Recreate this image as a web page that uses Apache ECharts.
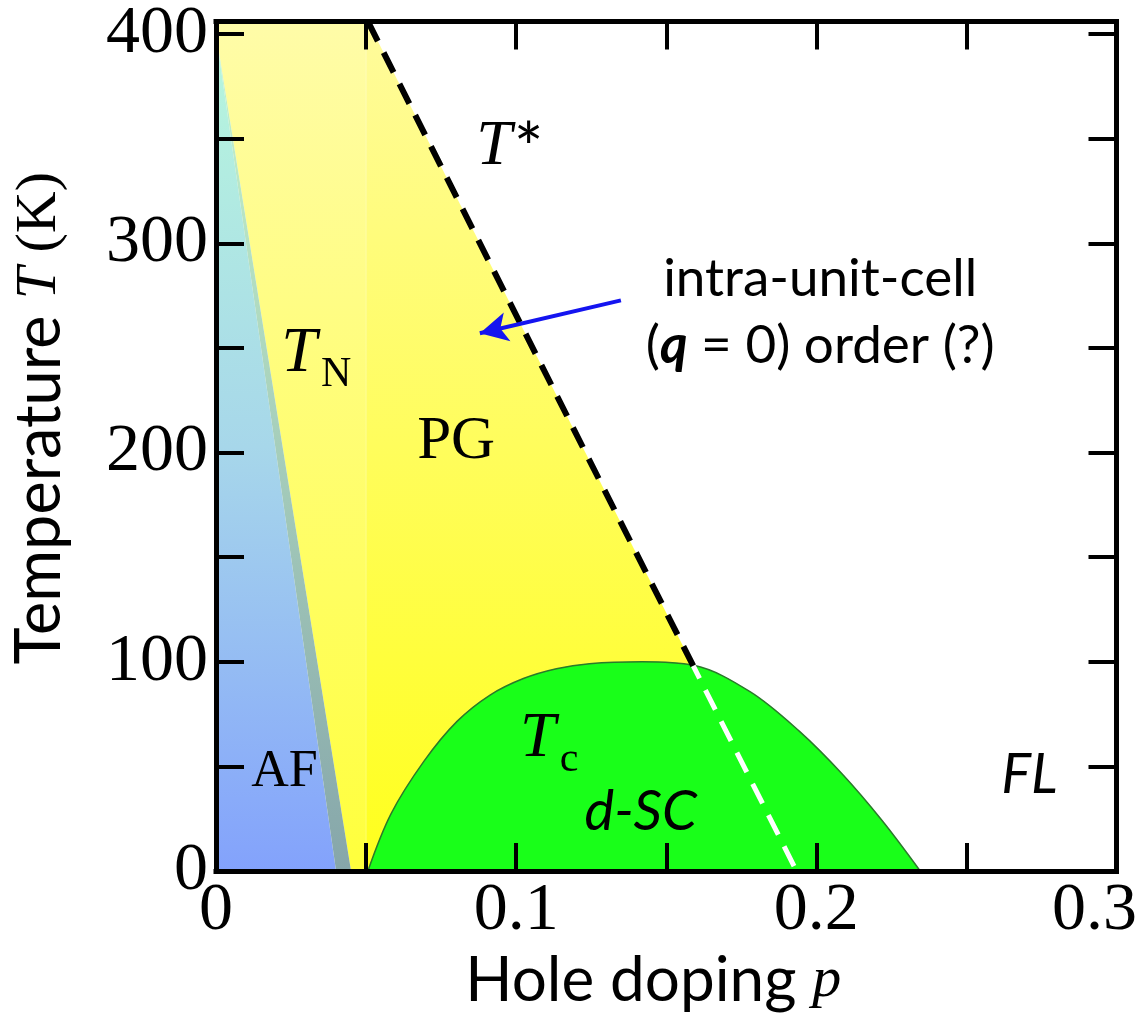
<!DOCTYPE html>
<html>
<head>
<meta charset="utf-8">
<script src="https://cdn.jsdelivr.net/npm/echarts@6/dist/echarts.min.js"></script>
<style>
  html, body { margin: 0; padding: 0; background: #fff; }
  #chart { width: 1140px; height: 1026px; }
</style>
</head>
<body>
<div id="chart"></div>
<script>
// Cuprate phase diagram: temperature vs hole doping

// axis ticks and labels
const xTickValues = [0, 0.05, 0.1, 0.15, 0.2, 0.25, 0.3];
const xLabelValues = [0, 0.1, 0.2, 0.3];
const xLabelTexts = ['0', '0.1', '0.2', '0.3'];
const yTickValues = [0, 50, 100, 150, 200, 250, 300, 350, 400];
const yLabelValues = [0, 100, 200, 300, 400];
const yLabelTexts = ['0', '100', '200', '300', '400'];

// region outlines as [p, T]
const afRegion = [[0, 0], [0, 400], [0.040, 0]];
const tnBand = [[0, 400], [0.045, 0], [0.040, 0]];
const pgUnderdoped = [[0, 406], [0, 400], [0.045, 0], [0.050, 0], [0.050, 406]];
const pgRegion = [[0.050, 0], [0.050, 406], [0.0506, 406], [0.1934, 0]];

// superconducting dome Tc(p)
const tcDome = [
  [0.0506, 0], [0.0583, 27.3], [0.0693, 52.5], [0.0803, 71.5], [0.0913, 84.1],
  [0.1024, 92.0], [0.1134, 96.7], [0.1244, 99.1], [0.1420, 100], [0.1591, 98.3],
  [0.1779, 85.7], [0.1944, 66.7], [0.2087, 46.2], [0.2219, 24.1], [0.2346, 0]
];

// pseudogap line T*(p), split where it meets the dome
const tStarAbove = [[0.0506, 406], [0.159, 98]];
const tStarBelow = [[0.159, 98], [0.1934, 0]];

// arrow pointing at the T* line
const arrowFrom = [0.1349, 272.7];
const arrowTo = [0.0879, 257];

// annotations: [p, T, rich text]
const annotations = [
  [0.0979, 346, '{ti|T}{tr|*}'],
  [0.0334, 247, '{ti|T}{sub|N}'],
  [0.0800, 205, '{big|PG}'],
  [0.2013, 283, '{note|intra-unit-cell}'],
  [0.2013, 251, '{note|(}{qb|q}{note| = 0) order (?)}'],
  [0.1110, 63, '{ti|T}{sub|c}'],
  [0.1415, 28, '{it|d-SC}'],
  [0.0228, 47, '{af|AF}'],
  [0.2710, 46, '{it|FL}']
];

const SERIF = '"Liberation Serif", "DejaVu Serif", serif';
const SANS = 'Lato, "Noto Sans", sans-serif';

const chart = echarts.init(document.getElementById('chart'), null, { renderer: 'canvas' });

function gradientFill(api, stops) {
  const yTop = api.coord([0, 406])[1];
  const yBot = api.coord([0, 0])[1];
  return new echarts.graphic.LinearGradient(0, yTop, 0, yBot, stops, true);
}

function polygonSeries(points, stops, z) {
  return {
    type: 'custom',
    z: z,
    silent: true,
    data: [[0, 0]],
    renderItem: function (params, api) {
      return {
        type: 'polygon',
        shape: { points: points.map(function (pt) { return api.coord(pt); }) },
        style: { fill: gradientFill(api, stops), stroke: null }
      };
    }
  };
}

const richStyles = {
  ti: { fontFamily: SERIF, fontStyle: 'italic', fontSize: 64, color: '#000', lineHeight: 64, verticalAlign: 'top' },
  tr: { fontFamily: SANS, fontSize: 70, color: '#000', lineHeight: 64, verticalAlign: 'top', padding: [0, 0, 0, 2] },
  sub: { fontFamily: SERIF, fontSize: 42, color: '#000', lineHeight: 42, verticalAlign: 'top', padding: [32, 0, 0, 4] },
  big: { fontFamily: SERIF, fontSize: 61, color: '#000' },
  note: { fontFamily: SANS, fontSize: 53, color: '#000' },
  qb: { fontFamily: SANS, fontSize: 53, color: '#000', fontStyle: 'italic', fontWeight: 'bold' },
  it: { fontFamily: SANS, fontStyle: 'italic', fontSize: 56, color: '#000' },
  af: { fontFamily: SERIF, fontSize: 52, color: '#fff' }
};

const axisLineStyle = { show: true, onZero: false, lineStyle: { color: '#000', width: 5, cap: 'square' } };
const tickStyle = { show: true, inside: true, length: 28, lineStyle: { color: '#000', width: 4 } };

const option = {
  animation: false,
  backgroundColor: '#fff',
  grid: { left: 212, right: 21, top: 13, bottom: 155 },
  xAxis: [
    {
      type: 'value', min: 0, max: 0.3, position: 'bottom', z: 10,
      axisLine: axisLineStyle,
      axisTick: Object.assign({ customValues: xTickValues }, tickStyle),
      axisLabel: {
        customValues: xLabelValues,
        margin: 6,
        color: '#000', fontFamily: SERIF, fontSize: 68,
        formatter: function (v) {
          const i = xLabelValues.findIndex(function (x) { return Math.abs(x - v) < 1e-9; });
          const txt = i >= 0 ? xLabelTexts[i] : '';
          return i === xLabelValues.length - 1 ? '{last|' + txt + '}' : txt;
        },
        rich: { last: { fontFamily: SERIF, fontSize: 68, color: '#000', padding: [0, 44, 0, 0] } }
      },
      splitLine: { show: false },
      name: '{s|Hole doping }{i|p}',
      nameLocation: 'middle',
      nameGap: 78,
      nameTextStyle: {
        padding: [0, 26, 0, 0],
        rich: {
          s: { fontFamily: SANS, fontSize: 62, color: '#000' },
          i: { fontFamily: SERIF, fontStyle: 'italic', fontSize: 58, color: '#000' }
        }
      }
    },
    {
      type: 'value', min: 0, max: 0.3, position: 'top', z: 10,
      axisLine: axisLineStyle,
      axisTick: Object.assign({ customValues: xTickValues }, tickStyle),
      axisLabel: { show: false },
      splitLine: { show: false }
    }
  ],
  yAxis: [
    {
      type: 'value', min: 0, max: 406, position: 'left', z: 10,
      axisLine: axisLineStyle,
      axisTick: Object.assign({ customValues: yTickValues }, tickStyle),
      axisLabel: {
        customValues: yLabelValues,
        margin: 8,
        color: '#000', fontFamily: SERIF, fontSize: 68,
        formatter: function (v) {
          const i = yLabelValues.indexOf(Math.round(v));
          return i >= 0 ? yLabelTexts[i] : '';
        }
      },
      splitLine: { show: false },
      name: '{s|Temperature }{i|T}{r| (K)}',
      nameLocation: 'middle',
      nameRotate: 90,
      nameGap: 145,
      nameTextStyle: {
        padding: [0, 0, 0, 56],
        rich: {
          s: { fontFamily: SANS, fontSize: 63, color: '#000' },
          i: { fontFamily: SERIF, fontStyle: 'italic', fontSize: 58, color: '#000' },
          r: { fontFamily: SERIF, fontSize: 58, color: '#000' }
        }
      }
    },
    {
      type: 'value', min: 0, max: 406, position: 'right', z: 10,
      axisLine: axisLineStyle,
      axisTick: Object.assign({ customValues: yTickValues }, tickStyle),
      axisLabel: { show: false },
      splitLine: { show: false }
    }
  ],
  series: [
    // pseudogap region, underdoped slice (slightly paler)
    polygonSeries(pgUnderdoped, [
      { offset: 0, color: '#fffca8' }, { offset: 1, color: '#ffff3c' }
    ], 1),
    // pseudogap region
    polygonSeries(pgRegion, [
      { offset: 0, color: '#fffb9c' }, { offset: 1, color: '#ffff1c' }
    ], 1),
    // antiferromagnet
    polygonSeries(afRegion, [
      { offset: 0, color: '#b8f8dc' }, { offset: 0.5, color: '#a7d7ea' }, { offset: 1, color: '#83a2fc' }
    ], 2),
    // Neel boundary band
    polygonSeries(tnBand, [
      { offset: 0, color: '#c6f6cc' }, { offset: 1, color: '#86a6aa' }
    ], 2),
    // faint seam at p = 0.05
    {
      type: 'line', z: 2, silent: true, showSymbol: false,
      data: [[0.05, 0], [0.05, 406]],
      lineStyle: { color: 'rgba(255,255,255,0.25)', width: 1 }
    },
    // d-wave superconducting dome
    {
      type: 'line', z: 3, silent: true, showSymbol: false, smooth: 0.35,
      data: tcDome,
      lineStyle: { color: '#2a7a2a', width: 1.5 },
      areaStyle: { color: '#19ff19', opacity: 1 }
    },
    // T* above the dome
    {
      type: 'line', z: 4, silent: true, showSymbol: false,
      data: tStarAbove,
      lineStyle: { color: '#000', width: 6, type: [22, 13] }
    },
    // T* inside the dome
    {
      type: 'line', z: 4, silent: true, showSymbol: false,
      data: tStarBelow,
      lineStyle: { color: '#fff', width: 5, type: [22, 13], dashOffset: 8 }
    },
    // arrow to the intra-unit-cell order
    {
      type: 'line', z: 5, silent: true, data: [],
      markLine: {
        silent: true, animation: false,
        symbol: ['none', 'arrow'], symbolSize: [22, 28],
        label: { show: false },
        lineStyle: { color: '#1414f0', width: 4, type: 'solid' },
        data: [[{ coord: arrowFrom }, { coord: arrowTo }]]
      }
    },
    // text annotations
    {
      type: 'custom', z: 6, silent: true,
      data: annotations.map(function (a) { return [a[0], a[1]]; }),
      renderItem: function (params, api) {
        const pt = api.coord([api.value(0), api.value(1)]);
        return {
          type: 'text',
          x: pt[0], y: pt[1],
          style: {
            text: annotations[params.dataIndex][2],
            rich: richStyles,
            align: 'center',
            verticalAlign: 'middle'
          }
        };
      }
    }
  ]
};

chart.setOption(option);
</script>
</body>
</html>
